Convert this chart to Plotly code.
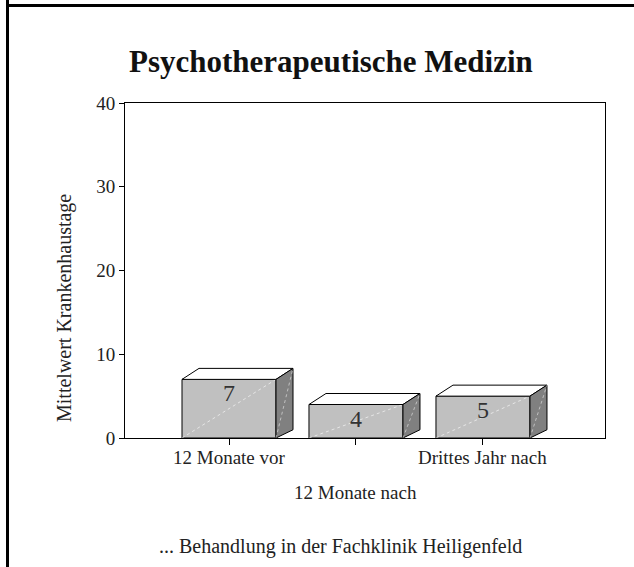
import plotly.graph_objects as go

categories = ["12 Monate vor", "12 Monate nach", "Drittes Jahr nach"]
values = [7, 4, 5]
y_ticks = [0, 10, 20, 30, 40]
title_text = "Psychotherapeutische Medizin"
y_title = "Mittelwert Krankenhaustage"
footer_text = "... Behandlung in der Fachklinik Heiligenfeld"

FONT = "Liberation Serif"
W, H = 634, 567
L, R, T, B = 125, 29, 103, 129
pw, ph = W - L - R, H - T - B

xr = [-0.819, 2.961]
yr = [0, 40]
ppx = pw / (xr[1] - xr[0])
ppy = ph / (yr[1] - yr[0])

bw = 94 / ppx
ddx = 17 / ppx
ddy = 11 / ppy

fig = go.Figure()

for i, v in enumerate(values):
    x0, x1 = i - bw / 2, i + bw / 2
    # front face
    fig.add_trace(go.Scatter(x=[x0, x1, x1, x0, x0], y=[0, 0, v, v, 0], fill="toself",
                             fillcolor="#c0c0c0", mode="lines", line=dict(color="black", width=1),
                             hoverinfo="skip", showlegend=False))
    # front diagonal highlight
    fig.add_trace(go.Scatter(x=[x0, x1], y=[0, v], mode="lines",
                             line=dict(color="rgba(255,255,255,0.6)", width=1, dash="dot"),
                             hoverinfo="skip", showlegend=False))
    # top face
    fig.add_trace(go.Scatter(x=[x0, x1, x1 + ddx, x0 + ddx, x0], y=[v, v, v + ddy, v + ddy, v],
                             fill="toself", fillcolor="white", mode="lines",
                             line=dict(color="black", width=1), hoverinfo="skip", showlegend=False))
    # side face
    fig.add_trace(go.Scatter(x=[x1, x1 + ddx, x1 + ddx, x1, x1], y=[0, ddy * 0.75, v + ddy, v, 0],
                             fill="toself", fillcolor="#808080", mode="lines",
                             line=dict(color="black", width=1), hoverinfo="skip", showlegend=False))
    fig.add_trace(go.Scatter(x=[x1, x1 + ddx], y=[0, v + ddy], mode="lines",
                             line=dict(color="rgba(255,255,255,0.5)", width=1, dash="dot"),
                             hoverinfo="skip", showlegend=False))
    fig.add_annotation(x=i, y=v, text=str(v), showarrow=False, yanchor="middle", yshift=-14,
                       font=dict(family=FONT, size=24, color="#333333"))

# category labels (staggered)
for i, c in enumerate(categories):
    fig.add_annotation(x=i, y=0, text=c, showarrow=False, yanchor="middle",
                       yshift=-19 if i % 2 == 0 else -54,
                       font=dict(family=FONT, size=19, color="#222222"))

def px_x(p):
    return (p - L) / pw

def px_y(p):
    return (H - B - p) / ph

fig.add_annotation(xref="paper", yref="paper", x=px_x(331), y=px_y(61), xanchor="center", yanchor="middle",
                   text="<b>" + title_text + "</b>",
                   showarrow=False, font=dict(family=FONT, size=31, color="#111111"))
fig.add_annotation(xref="paper", yref="paper", x=px_x(64), y=px_y(308), xanchor="center", yanchor="middle",
                   text=y_title, textangle=-90,
                   showarrow=False, font=dict(family=FONT, size=20, color="#222222"))
fig.add_annotation(xref="paper", yref="paper", x=px_x(340), y=px_y(546), xanchor="center", yanchor="middle",
                   text=footer_text,
                   showarrow=False, font=dict(family=FONT, size=20, color="#222222"))

# slide frame lines
fig.add_shape(type="line", xref="paper", yref="paper", x0=px_x(7.5), x1=px_x(640), y0=px_y(5.5), y1=px_y(5.5),
              line=dict(color="black", width=3))
fig.add_shape(type="line", xref="paper", yref="paper", x0=px_x(7.5), x1=px_x(7.5), y0=px_y(-5), y1=px_y(575),
              line=dict(color="black", width=3))

fig.update_xaxes(range=xr, tickvals=list(range(len(categories))), ticktext=["", "", ""],
                 ticks="outside", ticklen=6, tickcolor="black", showline=True, linecolor="black",
                 linewidth=1, mirror=True, showgrid=False, zeroline=False, fixedrange=True)
fig.update_yaxes(range=yr, tickvals=y_ticks, ticks="outside", ticklen=5, tickcolor="black",
                 showline=True, linecolor="black", linewidth=1, mirror=True, showgrid=False,
                 zeroline=False, tickfont=dict(family=FONT, size=19, color="#222222"), fixedrange=True)

fig.update_layout(width=W, height=H, margin=dict(l=L, r=R, t=T, b=B, autoexpand=False),
                  plot_bgcolor="white", paper_bgcolor="white", showlegend=False)

fig.write_html("out.html", config={"displayModeBar": False},
               post_script="document.body.style.margin='0px';")
